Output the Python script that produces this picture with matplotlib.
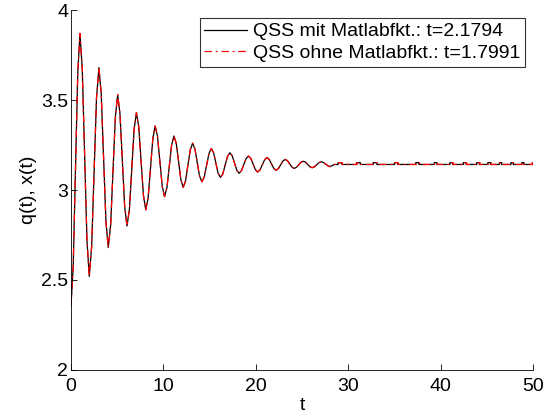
import numpy as np
import matplotlib.pyplot as plt

plt.rcParams['font.family'] = ['Liberation Sans', 'DejaVu Sans']

# Schwingungsteil, fuer beide Verfahren praktisch gleich
t_osc = [0.00, 0.24, 0.49, 0.73, 0.97, 1.22, 1.48, 1.73, 1.98, 2.24, 2.50, 2.76,
         3.02, 3.27, 3.53, 3.78, 4.03, 4.29, 4.54, 4.80, 5.05, 5.30, 5.56, 5.81,
         6.06, 6.32, 6.57, 6.83, 7.08, 7.33, 7.59, 7.84, 8.09, 8.35, 8.60, 8.86,
         9.11, 9.36, 9.62, 9.87, 10.12, 10.38, 10.63, 10.89, 11.14, 11.39, 11.64, 11.89,
         12.14, 12.40, 12.65, 12.91, 13.16, 13.41, 13.66, 13.91, 14.16, 14.42, 14.67, 14.93,
         15.18, 15.43, 15.68, 15.92, 16.17, 16.43, 16.68, 16.94, 17.19, 17.44, 17.69, 17.94,
         18.19, 18.44, 18.70, 18.95, 19.20, 19.45, 19.70, 19.95, 20.20, 20.45, 20.70, 20.95,
         21.20, 21.45, 21.70, 21.94, 22.19, 22.44, 22.68, 22.93, 23.17, 23.42, 23.66, 23.91,
         24.15, 24.39, 24.64, 24.88, 25.12, 25.37, 25.61, 25.86, 26.10, 26.34, 26.59, 26.83,
         27.07, 27.31, 27.56, 27.80, 28.04, 28.50]
q_osc = [2.356, 2.578, 3.113, 3.648, 3.870, 3.672, 3.195, 2.718, 2.520, 2.690, 3.100, 3.510,
         3.680, 3.534, 3.180, 2.826, 2.680, 2.805, 3.105, 3.405, 3.530, 3.423, 3.165, 2.907,
         2.800, 2.892, 3.115, 3.338, 3.430, 3.351, 3.160, 2.969, 2.890, 2.958, 3.123, 3.288,
         3.356, 3.299, 3.160, 3.021, 2.963, 3.013, 3.132, 3.251, 3.300, 3.259, 3.158, 3.057,
         3.015, 3.051, 3.138, 3.224, 3.260, 3.229, 3.153, 3.077, 3.046, 3.073, 3.138, 3.203,
         3.230, 3.207, 3.150, 3.093, 3.070, 3.090, 3.139, 3.187, 3.207, 3.190, 3.150, 3.110,
         3.093, 3.107, 3.141, 3.175, 3.189, 3.176, 3.145, 3.113, 3.100, 3.112, 3.140, 3.168,
         3.180, 3.170, 3.145, 3.120, 3.110, 3.119, 3.140, 3.161, 3.170, 3.163, 3.145, 3.127,
         3.120, 3.126, 3.140, 3.154, 3.160, 3.155, 3.142, 3.129, 3.124, 3.129, 3.141, 3.152,
         3.157, 3.153, 3.144, 3.134, 3.130, 3.142]

# Ruhelage mit kleinen Quantisierungsspruengen
q_rest = 3.142
q_bump = 3.152
bump_start_mit = [28.90, 30.90, 32.70, 35.00, 37.30, 39.30, 41.00, 42.45, 43.90, 45.10, 46.35, 47.60, 48.78]
bump_end_mit = [29.30, 31.30, 33.10, 35.35, 37.65, 39.60, 41.30, 42.75, 44.20, 45.40, 46.60, 47.85, 49.00]
bump_start_ohne = [28.95, 30.95, 32.75, 35.05, 37.35, 39.35, 41.05, 42.50, 43.95, 45.15, 46.40, 47.65, 48.82, 49.90]
bump_end_ohne = [29.35, 31.35, 33.15, 35.40, 37.70, 39.65, 41.35, 42.80, 44.25, 45.45, 46.65, 47.90, 49.05, 50.00]


def mit_rest(starts, ends):
    t = list(t_osc)
    q = list(q_osc)
    for s, e in zip(starts, ends):
        t += [s, s, e, e]
        q += [q_rest, q_bump, q_bump, q_rest]
    if t[-1] < 50:
        t.append(50)
        q.append(q_rest)
    return np.array(t), np.array(q)


t_mit, q_mit = mit_rest(bump_start_mit, bump_end_mit)
t_ohne, q_ohne = mit_rest(bump_start_ohne, bump_end_ohne)

fig = plt.figure(figsize=(5.44, 4.19), dpi=100)
ax = fig.add_axes([0.1305, 0.117, 0.8495, 0.859])

ax.plot(t_mit, q_mit, color='black', lw=0.9, label='QSS mit Matlabfkt.: t=2.1794')
ax.plot(t_ohne, q_ohne, color='red', lw=0.9, linestyle=(0, (6, 3, 1.5, 3)),
        label='QSS ohne Matlabfkt.: t=1.7991')

ax.set_xlim(0, 50)
ax.set_ylim(2, 4)
ax.set_xticks([0, 10, 20, 30, 40, 50])
ax.set_yticks([2, 2.5, 3, 3.5, 4])
ax.set_yticklabels(['2', '2.5', '3', '3.5', '4'])
ax.tick_params(direction='in', length=4, labelsize=14, width=0.6)
ax.tick_params(axis='x', pad=6)
ax.tick_params(axis='y', pad=2)
ax.spines['top'].set_visible(False)
ax.spines['right'].set_visible(False)
for s in ['left', 'bottom']:
    ax.spines[s].set_linewidth(0.6)
ax.set_xlabel('t', fontsize=14, labelpad=1)
ax.set_ylabel('q(t), x(t)', fontsize=14, labelpad=3)

leg = ax.legend(loc='upper right', fontsize=14, frameon=True, fancybox=False,
                borderpad=0.25, labelspacing=0.2, handlelength=2.2, handletextpad=0.3,
                borderaxespad=0.4)
leg.get_frame().set_edgecolor('black')
leg.get_frame().set_linewidth(0.8)

fig.savefig('out.png', dpi=100)
